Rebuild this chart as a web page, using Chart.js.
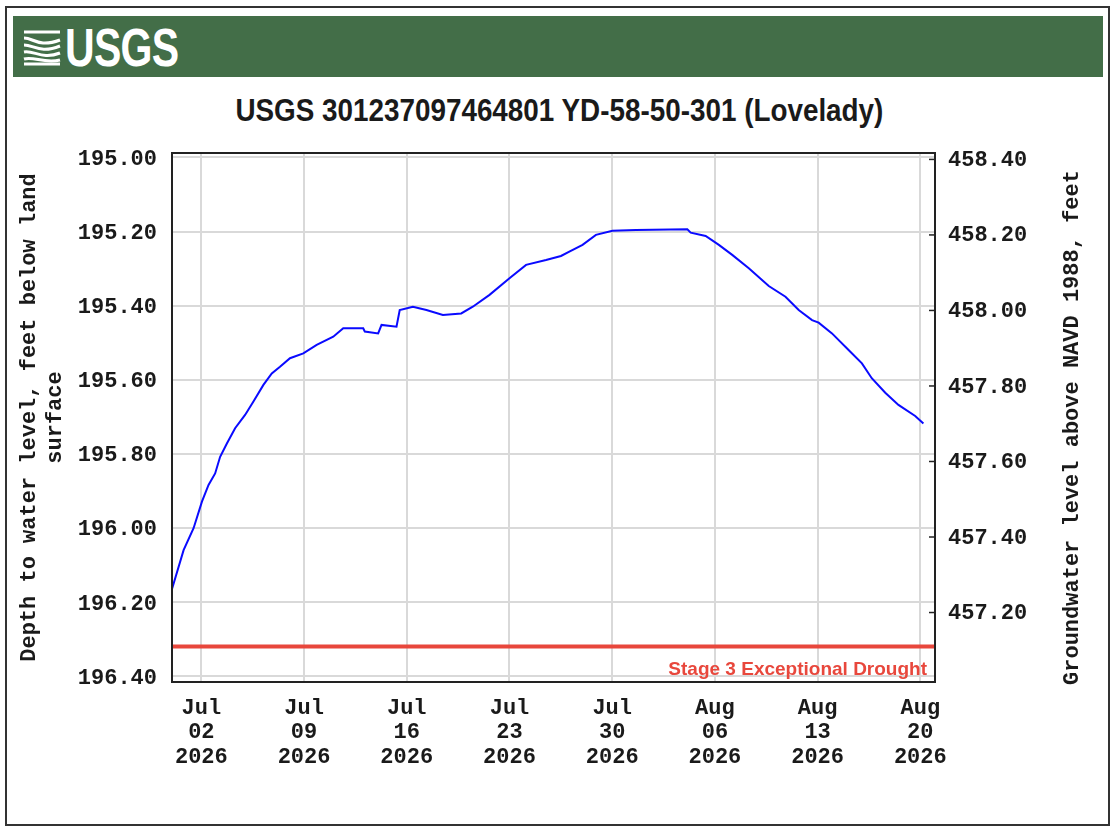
<!DOCTYPE html>
<html>
<head>
<meta charset="utf-8">
<script src="https://cdn.jsdelivr.net/npm/chart.js@4.4.1/dist/chart.umd.min.js"></script>
<style>
  html, body { margin: 0; padding: 0; background: #fff; }
  #page { position: relative; width: 1118px; height: 836px; overflow: hidden; }
  #frame { position: absolute; left: 5px; top: 6px; width: 1105px; height: 820px; border: 2px solid #333; box-sizing: border-box; }
  #banner { position: absolute; left: 13px; top: 16px; width: 1090px; height: 61px; background: #436e48; }
  #logo { position: absolute; left: 22px; top: 22px; height: 50px; display: flex; align-items: center; }
  #logo span { font-family: 'Liberation Sans', sans-serif; font-weight: bold; font-size: 54px; color: #fff; letter-spacing: -1px; margin-left: 3px; display: inline-block; transform: scaleX(0.76); transform-origin: left center; }
  #title { position: absolute; left: 0; width: 1118px; top: 92px; text-align: center; }
  #title span { display: inline-block; font-family: 'Liberation Sans', sans-serif; font-weight: bold; font-size: 32px; color: #1a1a1a; transform: scaleX(0.87); transform-origin: center; white-space: nowrap; }
  #chart { position: absolute; left: 0; top: 0; }
</style>
</head>
<body>
<div id="page">
  <div id="frame"></div>
  <div id="banner"></div>
  <div id="logo">
    <svg width="40" height="38" viewBox="0 0 40 38">
      <g fill="none" stroke="#fff" stroke-width="3">
        <path d="M2 4 L38 4"/>
        <path d="M2 10 C12 10 16 20 38 12"/>
        <path d="M2 17 C12 17 18 26 38 18"/>
        <path d="M2 24 C12 22 20 32 38 25"/>
        <path d="M2 31 C12 28 22 36 38 32"/>
        <path d="M2 36 L38 36"/>
      </g>
    </svg>
    <span>USGS</span>
  </div>
  <div id="title"><span>USGS 301237097464801 YD-58-50-301 (Lovelady)</span></div>
  <canvas id="chart" width="1118" height="836"></canvas>
</div>
<script>
// days since 2026-06-30 00:00 and depth to water (ft below land surface)
const dayOffsets = [0, 0.79, 1.47, 2.04, 2.49, 2.94, 3.28, 3.74, 4.30, 4.98,
  5.55, 6.23, 6.80, 7.36, 8.04, 8.95, 9.86, 10.99, 11.67, 13.03,
  13.14, 14.05, 14.28, 15.30, 15.52, 16.42, 17.34, 18.46, 19.71, 20.50,
  21.64, 23.00, 24.13, 25.49, 26.51, 27.08, 27.98, 28.89, 30.02, 31.61,
  35.12, 35.35, 36.37, 37.27, 38.18, 39.31, 40.67, 41.81, 42.71, 43.62,
  44.07, 44.98, 46.11, 47.02, 47.69, 48.61, 49.51, 50.65, 51.21];
const depthFt = [196.165, 196.060, 196.001, 195.929, 195.884, 195.853, 195.808, 195.772, 195.731, 195.695,
  195.659, 195.614, 195.583, 195.565, 195.542, 195.529, 195.506, 195.484, 195.461, 195.461,
  195.470, 195.475, 195.452, 195.457, 195.412, 195.403, 195.412, 195.425, 195.421, 195.403,
  195.371, 195.326, 195.290, 195.277, 195.266, 195.254, 195.236, 195.209, 195.198, 195.196,
  195.194, 195.203, 195.212, 195.236, 195.263, 195.299, 195.347, 195.376, 195.412, 195.439,
  195.446, 195.475, 195.520, 195.556, 195.596, 195.635, 195.668, 195.698, 195.718];

const xTickDays = [2, 9, 16, 23, 30, 37, 44, 51];
const xTickLabels = [
  ['Jul', '02', '2026'], ['Jul', '09', '2026'], ['Jul', '16', '2026'], ['Jul', '23', '2026'],
  ['Jul', '30', '2026'], ['Aug', '06', '2026'], ['Aug', '13', '2026'], ['Aug', '20', '2026']
];
const depthTicks = [195.00, 195.20, 195.40, 195.60, 195.80, 196.00, 196.20, 196.40];
const elevTicks = [457.20, 457.40, 457.60, 457.80, 458.00, 458.20, 458.40];

const droughtDepth = 196.32;
const droughtLabel = 'Stage 3 Exceptional Drought';

const leftTitle = ['Depth to water level, feet below land', 'surface'];
const rightTitle = 'Groundwater level above NAVD 1988, feet';

const monoFont = "'Liberation Mono', 'DejaVu Sans Mono', monospace";
const droughtColor = '#e8473c';

// frame around the plot, inward ticks on the right axis, drought label, right title
const extrasPlugin = {
  id: 'extras',
  afterDatasetsDraw(chart) {
    const ctx = chart.ctx;
    const area = chart.chartArea;
    const y = chart.scales.y;
    const y2 = chart.scales.y2;
    ctx.save();
    ctx.strokeStyle = '#222';
    ctx.lineWidth = 2;
    ctx.strokeRect(area.left, area.top, area.right - area.left, area.bottom - area.top);

    ctx.lineWidth = 1.5;
    elevTicks.forEach(v => {
      const py = y2.getPixelForValue(v);
      ctx.beginPath();
      ctx.moveTo(area.right - 6, py);
      ctx.lineTo(area.right, py);
      ctx.stroke();
    });

    ctx.fillStyle = droughtColor;
    ctx.font = "bold 19px 'Liberation Sans', Arial, sans-serif";
    ctx.textAlign = 'right';
    ctx.textBaseline = 'alphabetic';
    ctx.fillText(droughtLabel, area.right - 8, y.getPixelForValue(droughtDepth) + 28.5);

    ctx.fillStyle = '#1a1a1a';
    ctx.font = 'bold 22px ' + monoFont;
    ctx.textAlign = 'center';
    ctx.textBaseline = 'middle';
    ctx.translate(y2.right - 23, (area.top + area.bottom) / 2 + 10);
    ctx.rotate(-Math.PI / 2);
    ctx.fillText(rightTitle, 0, 0);
    ctx.restore();
  }
};

const ctx = document.getElementById('chart').getContext('2d');
const chart = new Chart(ctx, {
  type: 'line',
  data: {
    datasets: [{
      label: 'Depth to water level',
      data: dayOffsets.map((d, i) => ({ x: d, y: depthFt[i] })),
      borderColor: '#0a0aff',
      borderWidth: 2,
      pointRadius: 0,
      tension: 0,
      yAxisID: 'y'
    }, {
      label: droughtLabel,
      data: [{ x: 0, y: droughtDepth }, { x: 52, y: droughtDepth }],
      borderColor: droughtColor,
      borderWidth: 4,
      pointRadius: 0,
      yAxisID: 'y'
    }]
  },
  options: {
    responsive: false,
    animation: false,
    layout: { padding: { left: 10, right: 23, top: 153, bottom: 54 } },
    plugins: {
      legend: { display: false },
      tooltip: { enabled: false }
    },
    scales: {
      x: {
        type: 'linear',
        min: 0,
        max: 52,
        afterBuildTicks: s => { s.ticks = xTickDays.map(v => ({ value: v })); },
        afterFit: s => { s.height = 100; },
        ticks: {
          callback: (v, i) => xTickLabels[i],
          font: { family: monoFont, size: 22, weight: 'bold', lineHeight: 1.11 },
          color: '#1a1a1a',
          padding: 14,
          maxRotation: 0,
          autoSkip: false
        },
        grid: { color: '#d9d9d9', lineWidth: 2, drawTicks: false },
        border: { display: false }
      },
      y: {
        position: 'left',
        reverse: true,
        min: 194.988,
        max: 196.416,
        afterBuildTicks: s => { s.ticks = depthTicks.map(v => ({ value: v })); },
        afterFit: s => { s.width = 162; },
        ticks: {
          callback: v => v.toFixed(2),
          font: { family: monoFont, size: 22, weight: 'bold' },
          color: '#1a1a1a',
          padding: 15,
          labelOffset: 2
        },
        grid: { color: '#d9d9d9', lineWidth: 2, drawTicks: false },
        border: { display: false },
        title: {
          display: true,
          text: leftTitle,
          font: { family: monoFont, size: 22, weight: 'bold', lineHeight: 1.2 },
          color: '#1a1a1a',
          padding: { top: 6, bottom: 0 }
        }
      },
      y2: {
        position: 'right',
        min: 457.016,
        max: 458.417,
        afterBuildTicks: s => { s.ticks = elevTicks.map(v => ({ value: v })); },
        afterFit: s => { s.width = 160; },
        ticks: {
          callback: v => v.toFixed(2),
          font: { family: monoFont, size: 22, weight: 'bold' },
          color: '#1a1a1a',
          padding: 13,
          labelOffset: 1
        },
        grid: { drawOnChartArea: false, drawTicks: false },
        border: { display: false }
      }
    }
  },
  plugins: [extrasPlugin]
});
</script>
</body>
</html>
